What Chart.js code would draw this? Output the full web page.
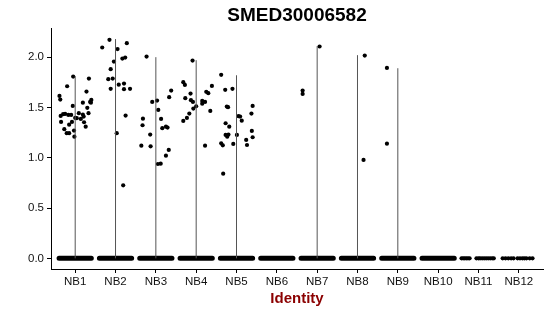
<!DOCTYPE html>
<html>
<head>
<meta charset="utf-8">
<script src="https://cdn.jsdelivr.net/npm/chart.js@4/dist/chart.umd.min.js"></script>
<style>
  body { margin: 0; background: #fff; }
  .wrap { width: 550px; height: 316px; }
</style>
</head>
<body>
<div class="wrap"><canvas id="graphic"></canvas></div>
<script>
const title = "SMED30006582";
const xTitle = "Identity";
const categories = ["NB1", "NB2", "NB3", "NB4", "NB5", "NB6", "NB7", "NB8", "NB9", "NB10", "NB11", "NB12"];
const yTicks = [0, 0.5, 1, 1.5, 2];

// top of each (very thin) violin, null = no violin
const vlnMax = [1.81, 2.18, 2.0, 1.97, 1.82, null, 2.11, 2.02, 1.89, null, null, null];

// groups whose zero values form a solid band
const zeroBand = ["NB1", "NB2", "NB3", "NB4", "NB5", "NB6", "NB7", "NB8", "NB9", "NB10"];
// sparse zeros: jitter offsets only
const nb11Zero = [-0.42, -0.38, -0.34, -0.30, -0.26, -0.22, -0.05, 0.0, 0.04, 0.09, 0.14, 0.19, 0.24, 0.29, 0.34, 0.38];
const nb12Zero = [-0.40, -0.33, -0.26, -0.19, -0.13, -0.03, 0.03, 0.09, 0.14, 0.19, 0.27, 0.34];

// non-zero cells: [jitter, expression]
const nb1 = [[-0.39,1.615],[-0.37,1.578],[-0.20,1.711],[-0.05,1.807],[0.34,1.787],[0.28,1.658],[0.19,1.548],
  [0.37,1.555],[0.40,1.575],[0.39,1.548],[0.30,1.496],[-0.06,1.515],[-0.36,1.416],[-0.30,1.433],[-0.25,1.436],
  [-0.17,1.426],[-0.10,1.426],[0.09,1.443],[0.00,1.396],[0.19,1.429],[0.21,1.409],[0.33,1.443],[-0.35,1.356],
  [-0.27,1.284],[-0.21,1.244],[-0.15,1.244],[-0.15,1.329],[-0.08,1.356],[-0.03,1.270],[-0.02,1.210],
  [0.04,1.393],[0.22,1.353],[0.26,1.309],[0.14,1.386]];
const nb2 = [[-0.33,2.096],[-0.15,2.172],[0.05,2.080],[-0.04,1.956],[-0.12,1.881],[-0.18,1.781],[-0.07,1.787],
  [-0.12,1.685],[0.08,1.727],[0.17,1.986],[0.24,1.996],[0.28,2.139],[0.21,1.737],[0.21,1.682],[0.36,1.685],
  [0.25,1.419],[0.03,1.244],[0.19,0.726]];
const nb3 = [[-0.23,2.006],[-0.32,1.389],[-0.33,1.323],[-0.14,1.230],[-0.36,1.120],[-0.13,1.114],[-0.09,1.555],
  [0.03,1.568],[0.06,1.476],[0.13,1.386],[0.16,1.294],[0.25,1.309],[0.29,1.300],[0.33,1.602],[0.38,1.668],
  [0.32,1.078],[0.25,1.021],[0.05,0.938],[0.12,0.941]];
const nb4 = [[-0.09,1.966],[-0.32,1.751],[-0.28,1.724],[-0.14,1.638],[-0.27,1.592],[-0.13,1.572],[-0.08,1.555],
  [0.00,1.512],[-0.07,1.489],[-0.17,1.439],[-0.23,1.396],[-0.32,1.366],[0.15,1.565],[0.15,1.538],[0.22,1.555],
  [0.25,1.655],[0.30,1.642],[0.39,1.714],[0.35,1.466],[0.22,1.120]];
const nb5 = [[-0.38,1.824],[-0.28,1.675],[-0.10,1.685],[-0.24,1.509],[-0.21,1.503],[-0.27,1.343],[-0.18,1.309],
  [-0.27,1.227],[-0.23,1.210],[-0.20,1.230],[-0.38,1.144],[-0.34,1.124],[-0.08,1.137],[0.01,1.227],
  [0.05,1.413],[0.09,1.409],[0.13,1.369],[0.24,1.177],[0.26,1.127],[0.38,1.267],[0.40,1.204],[0.37,1.439],
  [0.40,1.515],[-0.33,0.842]];
const nb7 = [[-0.36,1.668],[-0.36,1.635],[0.06,2.106]];
const nb8 = [[0.18,2.016],[0.15,0.978]];
const nb9 = [[-0.27,1.893],[-0.27,1.140]];

const groups = [nb1, nb2, nb3, nb4, nb5, [], nb7, nb8, nb9, [], [], []];

const vlnData = [];
vlnMax.forEach((m, i) => {
  if (m === null) return;
  vlnData.push({ x: i + 1, y: 0 }, { x: i + 1, y: m }, { x: i + 1, y: null });
});

const bandData = [];
zeroBand.forEach((c) => {
  const x = categories.indexOf(c) + 1;
  bandData.push({ x: x - 0.4, y: 0 }, { x: x + 0.4, y: 0 }, { x: x, y: null });
});

const pointData = [];
groups.forEach((g, i) => g.forEach(([dx, y]) => pointData.push({ x: i + 1 + dx, y: y })));
nb11Zero.forEach((dx) => pointData.push({ x: 11 + dx, y: 0 }));
nb12Zero.forEach((dx) => pointData.push({ x: 12 + dx, y: 0 }));

const titles = {
  id: "titles",
  afterDraw(chart) {
    const ctx = chart.ctx;
    const a = chart.chartArea;
    const cx = (a.left + a.right) / 2;
    ctx.save();
    ctx.textAlign = "center";
    ctx.textBaseline = "middle";
    ctx.fillStyle = "#000";
    ctx.font = "bold 19px 'Liberation Sans', Arial, sans-serif";
    ctx.fillText(title, cx, 16);
    ctx.fillStyle = "#8b0000";
    ctx.font = "bold 15px 'Liberation Sans', Arial, sans-serif";
    ctx.fillText(xTitle, cx, 299);
    ctx.restore();
  },
};

const tickFont = { family: "'Liberation Sans', Arial, sans-serif", size: 11.5 };

new Chart(document.getElementById("graphic"), {
  type: "scatter",
  data: {
    datasets: [
      {
        type: "line",
        data: vlnData,
        borderColor: "#555",
        borderWidth: 1,
        pointRadius: 0,
        spanGaps: false,
      },
      {
        type: "line",
        data: bandData,
        borderColor: "#000",
        borderWidth: 5,
        borderCapStyle: "round",
        pointRadius: 0,
        spanGaps: false,
      },
      {
        data: pointData,
        backgroundColor: "#000",
        borderWidth: 0,
        pointRadius: 2.1,
      },
    ],
  },
  options: {
    responsive: true,
    maintainAspectRatio: false,
    animation: false,
    layout: { padding: { top: 28, right: 7, left: 0, bottom: 0 } },
    plugins: { legend: { display: false }, tooltip: { enabled: false } },
    scales: {
      x: {
        type: "linear",
        min: 0.4,
        max: 12.6,
        afterBuildTicks: (s) => { s.ticks = categories.map((c, i) => ({ value: i + 1 })); },
        afterFit: (s) => { s.height = 47; },
        ticks: {
          callback: (v) => categories[v - 1],
          color: "#111",
          font: tickFont,
          padding: 2,
          maxRotation: 0,
          autoSkip: false,
        },
        grid: { drawOnChartArea: false, tickLength: 4, color: "#000" },
        border: { display: true, color: "#000", width: 1 },
      },
      y: {
        min: -0.106,
        max: 2.29,
        afterBuildTicks: (s) => { s.ticks = yTicks.map((v) => ({ value: v })); },
        afterFit: (s) => { s.width = 51; },
        ticks: {
          callback: (v) => v.toFixed(1),
          color: "#111",
          font: tickFont,
          padding: 3,
        },
        grid: { drawOnChartArea: false, tickLength: 4, color: "#000" },
        border: { display: true, color: "#000", width: 1 },
      },
    },
  },
  plugins: [titles],
});
</script>
</body>
</html>
